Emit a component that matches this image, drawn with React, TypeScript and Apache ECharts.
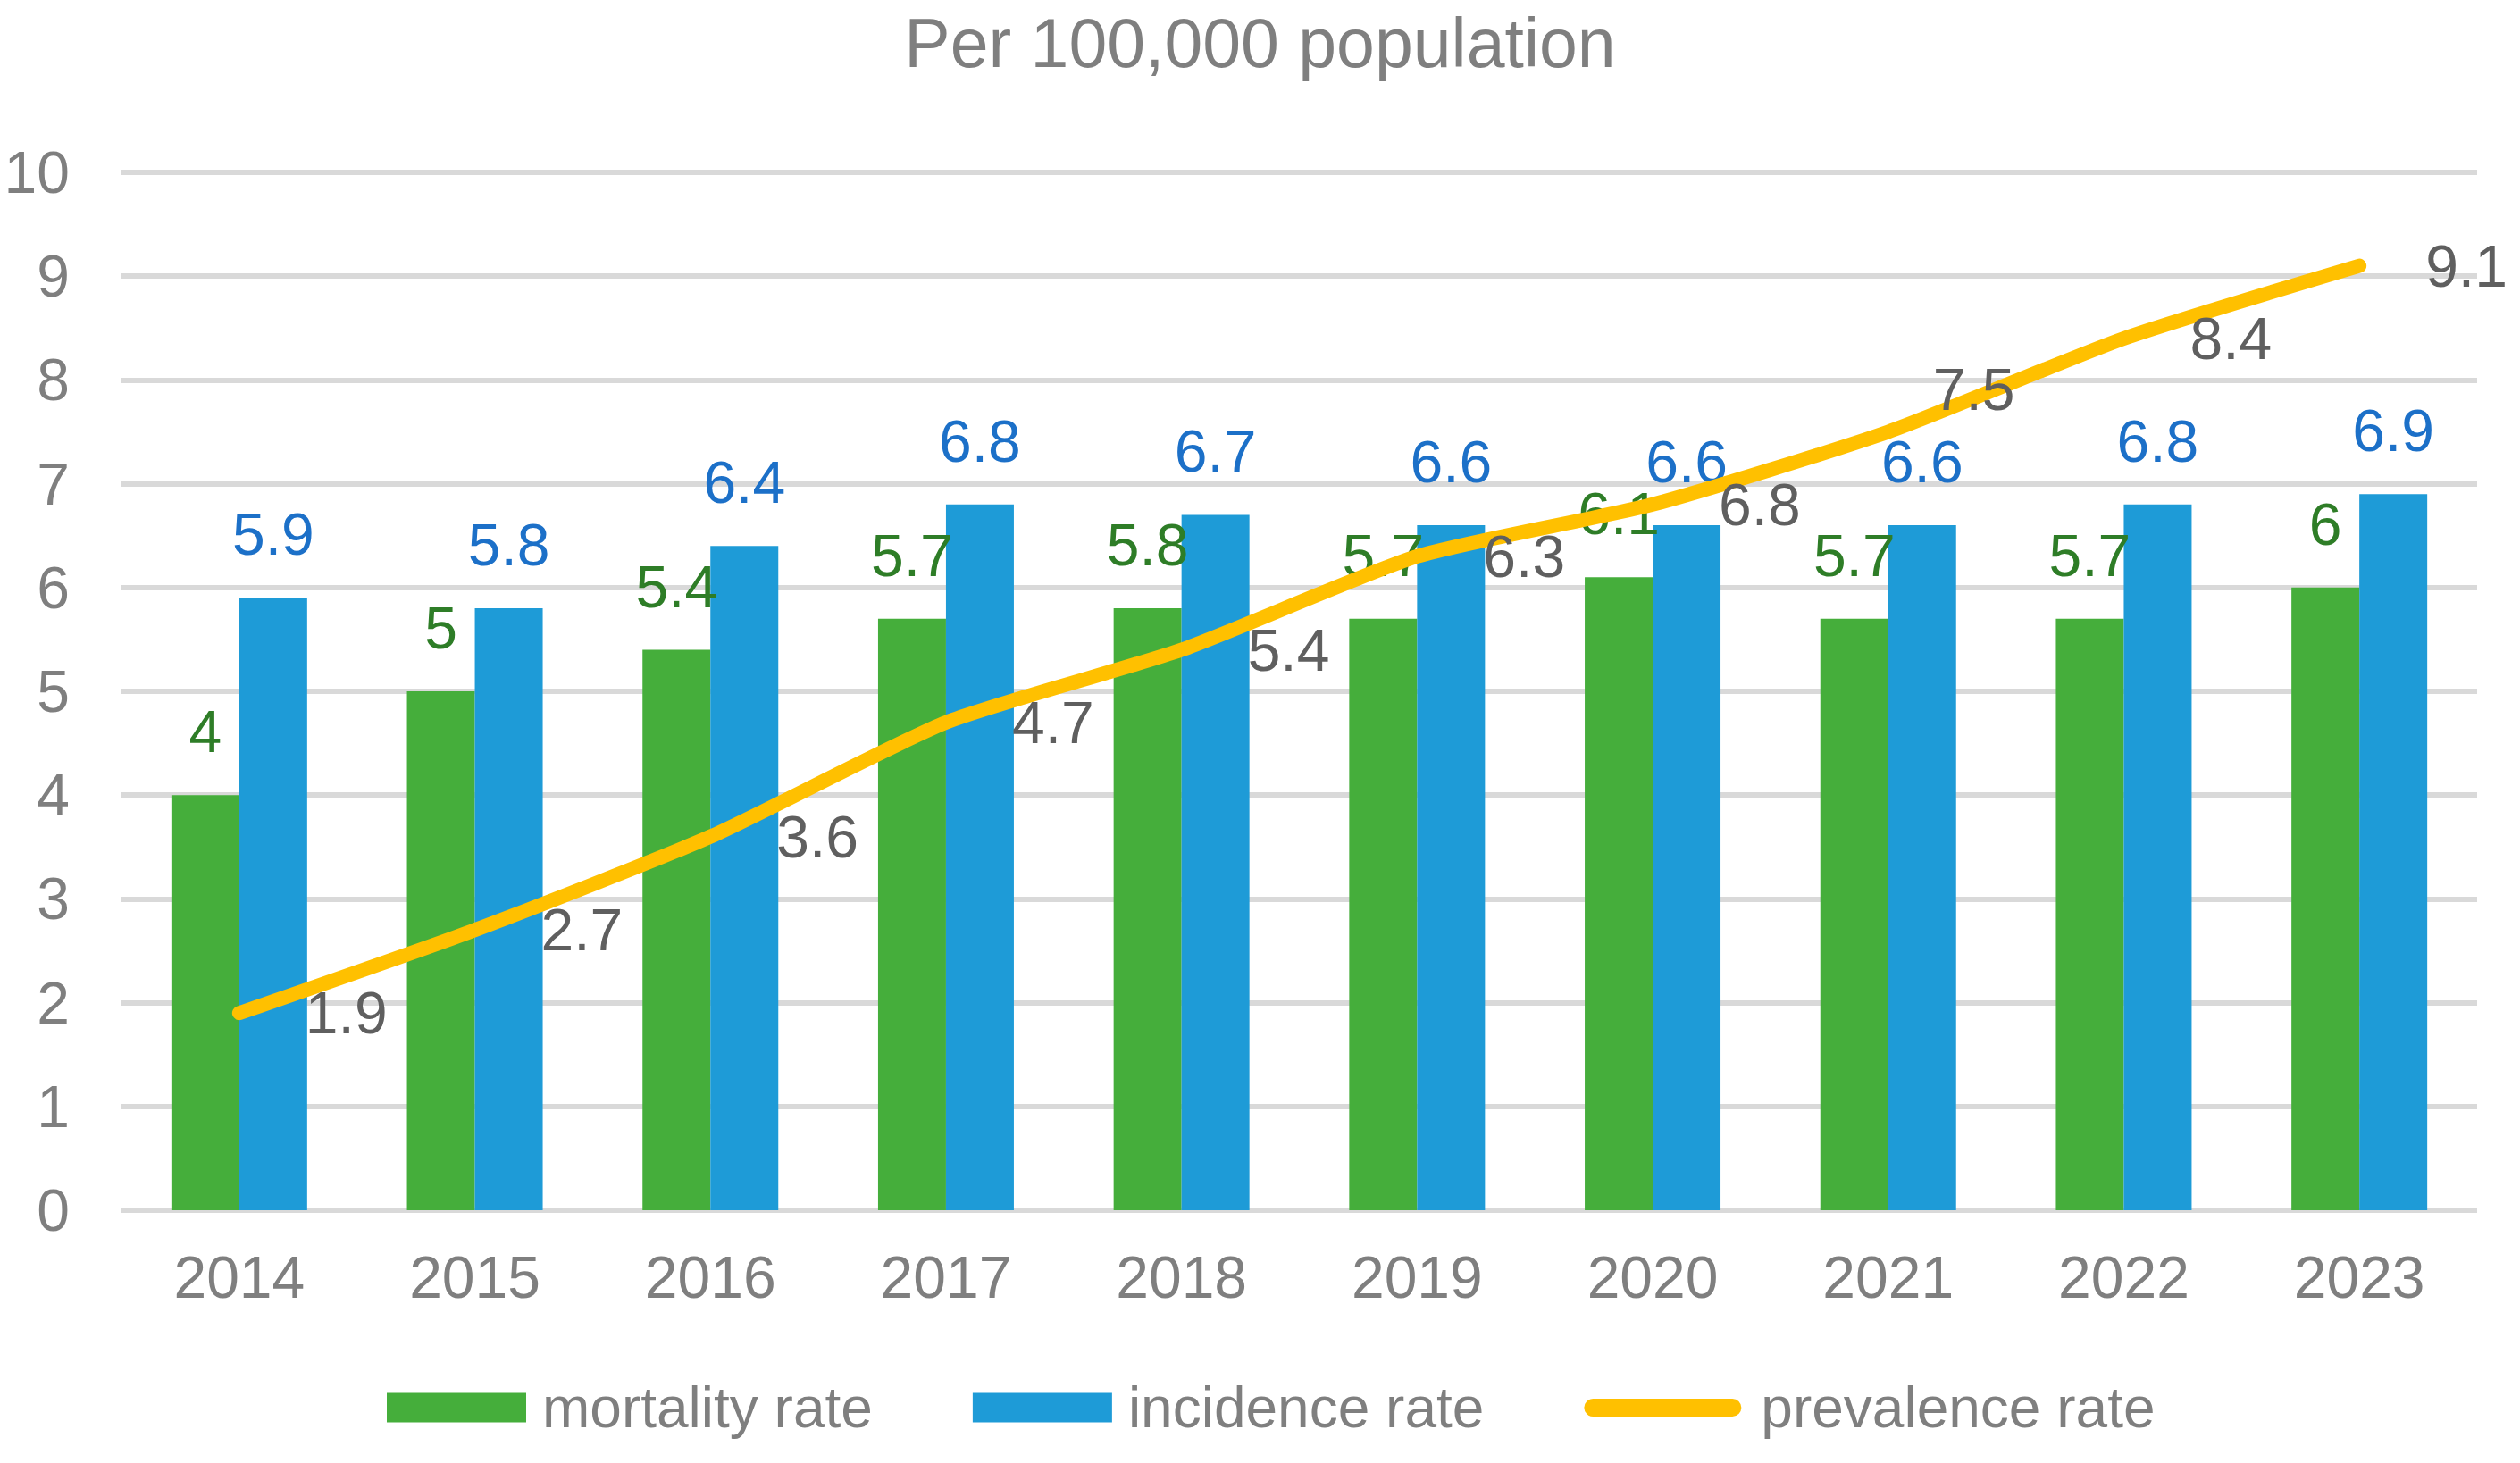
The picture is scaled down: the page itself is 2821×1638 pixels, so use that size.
import React, { useEffect, useRef } from "react";
import * as echarts from "echarts";

const years = ["2014", "2015", "2016", "2017", "2018", "2019", "2020", "2021", "2022", "2023"];
const mortality = [4, 5, 5.4, 5.7, 5.8, 5.7, 6.1, 5.7, 5.7, 6];
const incidence = [5.9, 5.8, 6.4, 6.8, 6.7, 6.6, 6.6, 6.6, 6.8, 6.9];
const prevalence = [1.9, 2.7, 3.6, 4.7, 5.4, 6.3, 6.8, 7.5, 8.4, 9.1];
const yTicks = [0, 10, 1]; // min, max, interval

const FONT = '"Liberation Sans", Arial, sans-serif';
const GRAY = "#7F7F7F";

export default function App() {
  const ref = useRef<HTMLDivElement>(null);
  useEffect(() => {
    document.body.style.margin = "0";
    if (!ref.current) return;
    const chart = echarts.init(ref.current, undefined, { renderer: "svg" });
    const prevData = prevalence.map((v, i) =>
      i === 7 ? { value: v, label: { offset: [-24, -48] } } : v
    );
    chart.setOption({
      animation: false,
      backgroundColor: "#FFFFFF",
      textStyle: { fontFamily: FONT },
      title: {
        text: "Per 100,000 population",
        left: "center",
        top: 4,
        textStyle: { fontFamily: FONT, fontSize: 77, fontWeight: "normal", color: GRAY, lineHeight: 77 },
      },
      legend: {
        left: 428,
        top: 1539,
        itemWidth: 156,
        itemHeight: 33,
        itemGap: 112,
        textStyle: { fontFamily: FONT, fontSize: 64, color: GRAY, lineHeight: 64, padding: [0, 0, 0, 13] },
        data: [
          { name: "mortality rate", icon: "rect" },
          { name: "incidence rate", icon: "rect" },
          {
            name: "prevalence rate",
            lineStyle: { color: "#FFC000", width: 20, cap: "round" },
            itemStyle: { color: "rgba(0,0,0,0)", opacity: 0 },
            textStyle: { padding: [0, 0, 0, 27] },
          },
        ],
      },
      grid: { left: 136, right: 48, top: 193, bottom: 283, containLabel: false },
      xAxis: {
        type: "category",
        data: years,
        axisLine: { show: false },
        axisTick: { show: false },
        axisLabel: { fontFamily: FONT, fontSize: 66, color: GRAY, margin: 42 },
      },
      yAxis: {
        type: "value",
        min: yTicks[0],
        max: yTicks[1],
        interval: yTicks[2],
        axisLine: { show: false },
        axisTick: { show: false },
        axisLabel: { fontFamily: FONT, fontSize: 66, color: GRAY, margin: 58 },
        splitLine: { lineStyle: { color: "#D9D9D9", width: 6 } },
      },
      series: [
        {
          name: "mortality rate",
          type: "bar",
          data: mortality,
          barWidth: 76,
          barGap: "0%",
          itemStyle: { color: "#45AE3B" },
          label: {
            show: true,
            position: "top",
            distance: 38,
            fontFamily: FONT,
            fontSize: 66,
            color: "#2E7D27",
            lineHeight: 66,
          },
        },
        {
          name: "incidence rate",
          type: "bar",
          data: incidence,
          barWidth: 76,
          barGap: "0%",
          itemStyle: { color: "#1E9BD7" },
          label: {
            show: true,
            position: "top",
            distance: 38,
            fontFamily: FONT,
            fontSize: 66,
            color: "#1C70C8",
            lineHeight: 66,
          },
        },
        {
          name: "prevalence rate",
          type: "line",
          data: prevData,
          smooth: 0.2,
          symbol: "circle",
          symbolSize: 2,
          showSymbol: true,
          itemStyle: { color: "rgba(0,0,0,0)" },
          lineStyle: { color: "#FFC000", width: 16, cap: "round", join: "round" },
          label: {
            show: true,
            position: "right",
            distance: 73,
            fontFamily: FONT,
            fontSize: 66,
            color: "#5F5F5F",
            lineHeight: 66,
          },
          z: 3,
        },
      ],
    });
    return () => chart.dispose();
  }, []);
  return <div ref={ref} style={{ width: 2821, height: 1638 }} />;
}
